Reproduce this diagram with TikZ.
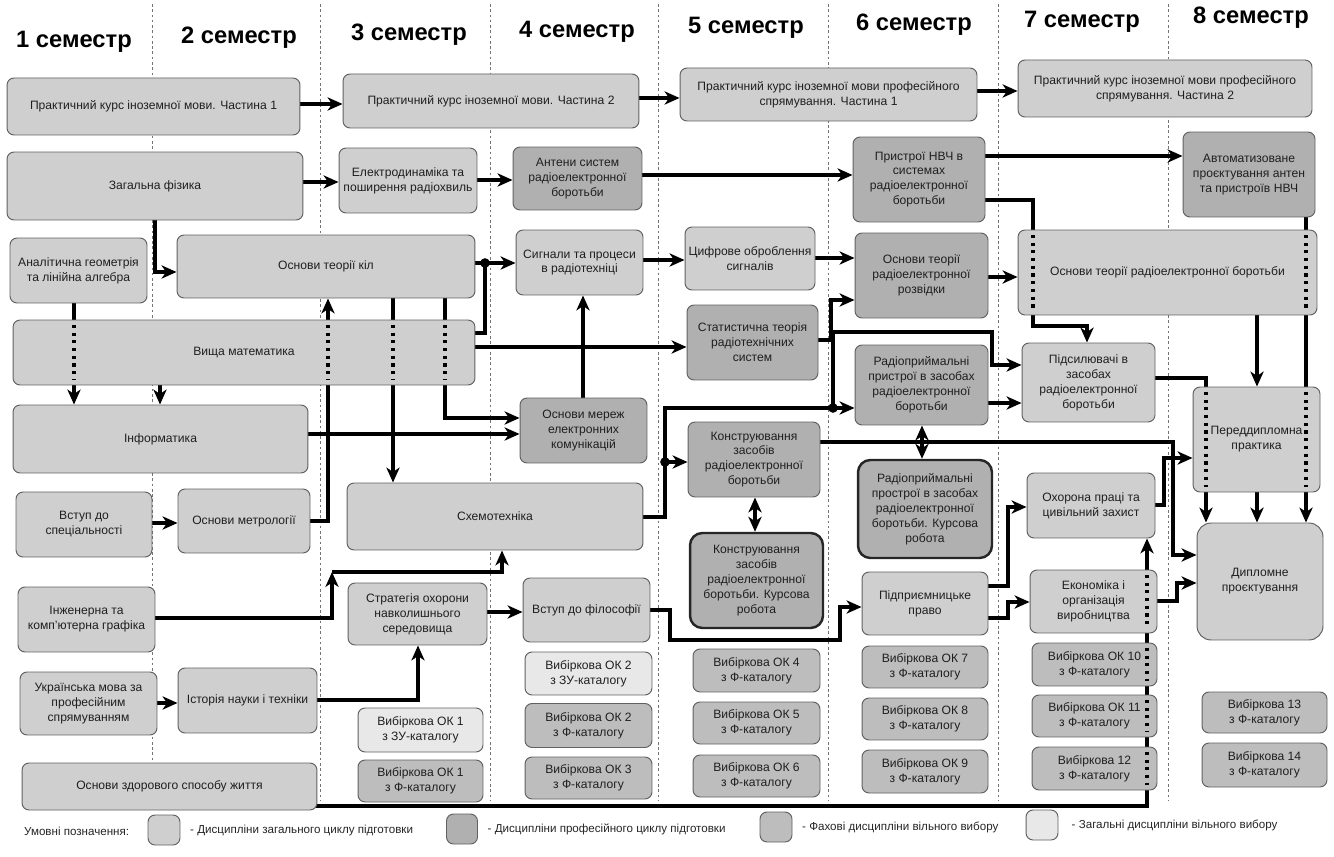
\documentclass[tikz,border=0pt]{standalone}
\usepackage{fontspec}
\setmainfont{Liberation Sans}
\usetikzlibrary{arrows.meta,positioning,backgrounds}
\newcommand{\boxfont}{\fontsize{6.9}{8.5}\selectfont\color{black!88}}
\newcommand{\legfont}{\fontsize{6.6}{8}\selectfont\color{black!85}}
\tikzset{
  kbox/.style={draw=black!62, line width=0.55pt, rounded corners=4pt, align=center, inner sep=1pt, font=\boxfont},
  gen/.style={kbox, fill=black!19},
  prof/.style={kbox, fill=black!31},
  fvyb/.style={kbox, fill=black!26},
  zvyb/.style={kbox, fill=black!9},
  kurs/.style={prof, draw=black!85, line width=1.4pt, rounded corners=7pt},
  wire/.style={line width=1.85pt},
  conn/.style={wire, -{Stealth[length=8.5pt,width=7.5pt,inset=2.5pt]}},
  twoway/.style={wire, {Stealth[length=8.5pt,width=7.5pt,inset=2.5pt]}-{Stealth[length=8.5pt,width=7.5pt,inset=2.5pt]}},
  thru/.style={line width=1.8pt, dash pattern=on 1.8pt off 2.6pt, shorten <=3pt, shorten >=3pt},
  sem/.style={black!55, line width=0.4pt, dash pattern=on 1.5pt off 1.5pt},
  junc/.style={circle, fill, inner sep=0pt, minimum size=5.5pt},
  semhead/.style={font=\fontsize{13.5}{15}\selectfont\bfseries, anchor=west},
}
\begin{document}
\begin{tikzpicture}[x=0.02cm, y=-0.02cm]
      \useasboundingbox (0,0) rectangle (1334,857);
      \node[semhead] (s1) at (10,42) {1 семестр};
      \node[semhead] (s2) at (175,38) {2 семестр};
      \node[semhead] (s3) at (345,35) {3 семестр};
      \node[semhead] (s4) at (513,32) {4 семестр};
      \node[semhead] (s5) at (682,28) {5 семестр};
      \node[semhead] (s6) at (850,25) {6 семестр};
      \node[semhead] (s7) at (1018,22) {7 семестр};
      \node[semhead] (s8) at (1187,18) {8 семестр};

      \node[gen, minimum width=5.86cm, minimum height=1.14cm] (pk1) at (153.5,106.5) {Практичний курс іноземної мови. Частина 1};
      \node[gen, minimum width=5.92cm, minimum height=1.08cm] (pk2) at (491,101) {Практичний курс іноземної мови. Частина 2};
      \node[gen, minimum width=5.94cm, minimum height=1.06cm] (pk3) at (828.5,94.5) {Практичний курс іноземної мови професійного\\спрямування. Частина 1};
      \node[gen, minimum width=5.88cm, minimum height=1.14cm] (pk4) at (1165,88.5) {Практичний курс іноземної мови професійного\\спрямування. Частина 2};

      \node[gen, minimum width=5.92cm, minimum height=1.36cm] (fiz) at (155,186) {Загальна фізика};
      \node[gen, minimum width=2.76cm, minimum height=1.30cm] (elek) at (408,180.5) {Електродинаміка та\\поширення радіохвиль};
      \node[prof, minimum width=2.58cm, minimum height=1.26cm] (ant) at (577.5,178.5) {Антени систем\\радіоелектронної\\боротьби};
      \node[prof, minimum width=2.64cm, minimum height=1.70cm] (nvch) at (919,179.5) {Пристрої НВЧ в\\системах\\радіоелектронної\\боротьби};
      \node[prof, minimum width=2.64cm, minimum height=1.70cm] (avt) at (1249,174.5) {Автоматизоване\\проєктування антен\\та пристроїв НВЧ};

      \node[gen, minimum width=2.74cm, minimum height=1.30cm] (geom) at (78.5,270.5) {Аналітична геометрія\\та лінійна алгебра};
      \node[gen, minimum width=5.96cm, minimum height=1.26cm] (kil) at (326,266.5) {Основи теорії кіл};
      \node[gen, minimum width=2.54cm, minimum height=1.30cm] (sygn) at (579.5,262.5) {Сигнали та процеси\\в радіотехніці};
      \node[gen, minimum width=2.60cm, minimum height=1.26cm] (cyfr) at (750,258.5) {Цифрове оброблення\\сигналів};
      \node[prof, minimum width=2.66cm, minimum height=1.70cm] (rozv) at (921.5,275.5) {Основи теорії\\радіоелектронної\\розвідки};
      \node[gen, minimum width=5.98cm, minimum height=1.70cm] (reb) at (1167.5,272.5) {Основи теорії радіоелектронної боротьби};

      \node[gen, minimum width=9.24cm, minimum height=1.30cm] (vyshch) at (244,352.5) {Вища математика};
      \node[prof, minimum width=2.62cm, minimum height=1.50cm] (stat) at (752.5,342.5) {Статистична теорія\\радіотехнічних\\систем};
      \node[prof, minimum width=2.66cm, minimum height=1.60cm] (rpp) at (921.5,385) {Радіоприймальні\\пристрої в засобах\\радіоелектронної\\боротьби};
      \node[gen, minimum width=2.66cm, minimum height=1.58cm] (pids) at (1088.5,382.5) {Підсилювачі в\\засобах\\радіоелектронної\\боротьби};

      \node[gen, minimum width=5.90cm, minimum height=1.36cm] (inf) at (160.5,439) {Інформатика};
      \node[prof, minimum width=2.54cm, minimum height=1.30cm] (merezh) at (583.5,430.5) {Основи мереж\\електронних\\комунікацій};
      \node[prof, minimum width=2.64cm, minimum height=1.50cm] (konstr) at (754,459.5) {Конструювання\\засобів\\радіоелектронної\\боротьби};
      \node[gen, minimum width=2.54cm, minimum height=2.10cm] (pered) at (1256.5,439.5) {Переддипломна\\практика};

      \node[gen, minimum width=2.72cm, minimum height=1.30cm] (vstup) at (84,524.5) {Вступ до\\спеціальності};
      \node[gen, minimum width=2.64cm, minimum height=1.28cm] (metr) at (244,521) {Основи метрології};
      \node[gen, minimum width=5.92cm, minimum height=1.34cm] (skhem) at (495,516.5) {Схемотехніка};
      \node[kurs, minimum width=2.66cm, minimum height=1.90cm] (kkr) at (756.5,580.5) {Конструювання\\засобів\\радіоелектронної\\боротьби. Курсова\\робота};
      \node[kurs, minimum width=2.68cm, minimum height=1.96cm] (rkr) at (925,509) {Радіоприймальні\\прострої в засобах\\радіоелектронної\\боротьби. Курсова\\робота};
      \node[gen, minimum width=2.56cm, minimum height=1.30cm] (okhor) at (1091,505.5) {Охорона праці та\\цивільний захист};
      \node[gen, rounded corners=8pt, minimum width=2.52cm, minimum height=2.34cm] (dypl) at (1260,581.5) {Дипломне\\проєктування};

      \node[gen, minimum width=2.74cm, minimum height=1.30cm] (graf) at (86.5,619.5) {Інженерна та\\комп'ютерна графіка};
      \node[gen, minimum width=2.78cm, minimum height=1.24cm] (strat) at (417.5,614) {Стратегія охорони\\навколишнього\\середовища};
      \node[gen, minimum width=2.54cm, minimum height=1.28cm] (filos) at (586.5,610) {Вступ до філософії};
      \node[gen, minimum width=2.52cm, minimum height=1.26cm] (pravo) at (925,603.5) {Підприємницьке\\право};
      \node[gen, minimum width=2.54cm, minimum height=1.26cm] (ekon) at (1093.5,601.5) {Економіка і\\організація\\виробництва};

      \node[gen, minimum width=2.74cm, minimum height=1.26cm] (ukr) at (88.5,703.5) {Українська мова за\\професійним\\спрямуванням};
      \node[gen, minimum width=2.78cm, minimum height=1.30cm] (ist) at (247.5,700.5) {Історія науки і техніки};
      \node[gen, minimum width=5.90cm, minimum height=0.94cm] (zdor) at (169.5,786.5) {Основи здорового способу життя};

      \node[zvyb, minimum width=2.50cm, minimum height=0.88cm] (ok1z) at (420.5,730) {Вибіркова ОК 1\\з ЗУ-каталогу};
      \node[fvyb, minimum width=2.50cm, minimum height=0.84cm] (ok1f) at (420.5,781) {Вибіркова ОК 1\\з Ф-каталогу};
      \node[zvyb, minimum width=2.54cm, minimum height=0.86cm] (ok2z) at (588.5,673.5) {Вибіркова ОК 2\\з ЗУ-каталогу};
      \node[fvyb, minimum width=2.54cm, minimum height=0.88cm] (ok2f) at (588.5,725.5) {Вибіркова ОК 2\\з Ф-каталогу};
      \node[fvyb, minimum width=2.54cm, minimum height=0.84cm] (ok3) at (588.5,778) {Вибіркова ОК 3\\з Ф-каталогу};
      \node[fvyb, minimum width=2.54cm, minimum height=0.86cm] (ok4) at (756.5,670.5) {Вибіркова ОК 4\\з Ф-каталогу};
      \node[fvyb, minimum width=2.54cm, minimum height=0.84cm] (ok5) at (756.5,723) {Вибіркова ОК 5\\з Ф-каталогу};
      \node[fvyb, minimum width=2.54cm, minimum height=0.84cm] (ok6) at (756.5,776) {Вибіркова ОК 6\\з Ф-каталогу};
      \node[fvyb, minimum width=2.52cm, minimum height=0.84cm] (ok7) at (925,667) {Вибіркова ОК 7\\з Ф-каталогу};
      \node[fvyb, minimum width=2.52cm, minimum height=0.84cm] (ok8) at (925,719) {Вибіркова ОК 8\\з Ф-каталогу};
      \node[fvyb, minimum width=2.52cm, minimum height=0.86cm] (ok9) at (925,771.5) {Вибіркова ОК 9\\з Ф-каталогу};
      \node[fvyb, minimum width=2.50cm, minimum height=0.86cm] (ok10) at (1094.5,664.5) {Вибіркова ОК 10\\з Ф-каталогу};
      \node[fvyb, minimum width=2.50cm, minimum height=0.84cm] (ok11) at (1094.5,716) {Вибіркова ОК 11\\з Ф-каталогу};
      \node[fvyb, minimum width=2.50cm, minimum height=0.86cm] (ok12) at (1094.5,768.5) {Вибіркова 12\\з Ф-каталогу};
      \node[fvyb, minimum width=2.50cm, minimum height=0.82cm] (ok13) at (1264.5,712.5) {Вибіркова 13\\з Ф-каталогу};
      \node[fvyb, minimum width=2.50cm, minimum height=0.88cm] (ok14) at (1264.5,765) {Вибіркова 14\\з Ф-каталогу};

      \coordinate (j1) at (665,462);
      \coordinate (j2) at (833,408);
      \coordinate (j3) at (485,263);

      \begin{pgfonlayer}{background}
      \fill[white] (0,0) rectangle (1334,857);
      \foreach \sx in {152,320,490,658,828,998,1168}
        \draw[sem] (\sx,4) -- (\sx,800);
      \draw[conn] (pk1.east |- 0,104) -- (pk2.west |- 0,104);
      \draw[conn] (pk2.east |- 0,98) -- (pk3.west |- 0,98);
      \draw[conn] (pk3.east |- 0,91) -- (pk4.west |- 0,91);
      \draw[conn] (fiz.east |- 0,182) -- (elek.west |- 0,182);
      \draw[conn] (fiz.south -| 155,0) |- (kil.west |- 0,272);
      \draw[conn] (elek.east |- 0,180) -- (ant.west |- 0,180);
      \draw[conn] (ant.east |- 0,175) -- (nvch.west |- 0,175);
      \draw[conn] (nvch.east |- 0,156) -- (avt.west |- 0,156);
      \draw[conn] (nvch.east |- 0,200) -| (1033,326) -| (pids.north -| 1087,0);
      \draw[conn] (avt.south -| 1306,0) -- (dypl.north -| 1306,0);
      \draw[conn] (reb.south -| 1257,0) -- (pered.north -| 1257,0);
      \draw[conn] (pered.south -| 1257,0) -- (dypl.north -| 1257,0);
      \draw[conn] (pids.east |- 0,378) -| (dypl.north -| 1206,0);
      \draw[conn] (geom.south -| 74,0) -- (inf.north -| 74,0);
      \draw[conn] (vyshch.south -| 160,0) -- (inf.north -| 160,0);
      \draw[conn] (metr.east |- 0,521) -| (kil.south -| 328,0);
      \draw[conn] (kil.south -| 393,0) -- (skhem.north -| 393,0);
      \draw[conn] (kil.south -| 445,0) |- (merezh.west |- 0,418);
      \draw[conn] (inf.east |- 0,434) -- (merezh.west |- 0,434);
      \draw[conn] (kil.east |- 0,263) -- (sygn.west |- 0,263);
      \draw[wire] (vyshch.east |- 0,333) -| (j3);
      \draw[conn] (merezh.north -| 583,0) -- (sygn.south -| 583,0);
      \draw[conn] (vyshch.east |- 0,347) -- (stat.west |- 0,347);
      \draw[conn] (sygn.east |- 0,260) -- (cyfr.west |- 0,260);
      \draw[conn] (cyfr.east |- 0,258) -- (rozv.west |- 0,258);
      \draw[conn] (stat.east |- 0,340) -| (831,300) -- (rozv.west |- 0,300);
      \draw[conn] (rozv.east |- 0,277) -- (reb.west |- 0,277);
      \draw[conn] (skhem.east |- 0,517) -| (665,408) -- (rpp.west |- 0,408);
      \draw[conn] (j1) -- (konstr.west |- j1);
      \draw[conn] (j2) |- (992,332) |- (pids.west |- 0,365);
      \draw[conn] (rpp.east |- 0,403) -- (pids.west |- 0,403);
      \draw[twoway] (rpp.south -| 922,0) -- (rkr.north -| 922,0);
      \draw[twoway] (konstr.south -| 755,0) -- (kkr.north -| 755,0);
      \draw[conn] (konstr.east |- 0,442) -| (1173,555) -- (dypl.west |- 0,555);
      \draw[conn] (okhor.east |- 0,505) -| (1164,458) -- (pered.west |- 0,458);
      \draw[conn] (ekon.east |- 0,601) -| (1177,583) -- (dypl.west |- 0,583);
      \draw[conn] (pravo.east |- 0,586) -| (1008,507) -- (okhor.west |- 0,507);
      \draw[conn] (pravo.east |- 0,618) -| (1008,602) -- (ekon.west |- 0,602);
      \draw[conn] (filos.east |- 0,610) -| (670,640) -| (840,607) -- (pravo.west |- 0,607);
      \draw[conn] (strat.east |- 0,612) -- (filos.west |- 0,612);
      \draw[conn] (ist.east |- 0,700) -| (strat.south -| 418,0);
      \draw[conn] (ukr.east |- 0,703) -- (ist.west |- 0,703);
      \draw[conn] (vstup.east |- 0,523) -- (metr.west |- 0,523);
      \draw[conn] (graf.east |- 0,618) -| (332,572);
      \draw[conn] (332,572) -| (skhem.south -| 502,0);
      \draw[conn] (zdor.south -| 170,0) |- (1147,806) -- (okhor.south -| 1147,0);
      \end{pgfonlayer}

      \node[junc] at (j1) {};
      \node[junc] at (j2) {};
      \node[junc] at (j3) {};
      \foreach \tx in {74,328,393,445}
        \draw[thru] (vyshch.north -| \tx,0) -- (vyshch.south -| \tx,0);
      \foreach \tx in {1033,1306}
        \draw[thru] (reb.north -| \tx,0) -- (reb.south -| \tx,0);
      \foreach \tx in {1206,1306}
        \draw[thru] (pered.north -| \tx,0) -- (pered.south -| \tx,0);
      \foreach \tb in {ekon,ok10,ok11,ok12}
        \draw[thru] (\tb.north -| 1147,0) -- (\tb.south -| 1147,0);

      \node[anchor=west, font=\legfont] (leg) at (18,831) {Умовні позначення:};
      \node[gen, minimum width=0.64cm, minimum height=0.60cm] (lg1) at (164,830) {};
      \node[right=2pt of lg1, font=\legfont] (lt1) {- Дисципліни загального циклу підготовки};
      \node[prof, minimum width=0.62cm, minimum height=0.60cm] (lg2) at (462,829) {};
      \node[right=2pt of lg2, font=\legfont] (lt2) {- Дисципліни професійного циклу підготовки};
      \node[fvyb, minimum width=0.64cm, minimum height=0.60cm] (lg3) at (776,827) {};
      \node[right=2pt of lg3, font=\legfont] (lt3) {- Фахові дисципліни вільного вибору};
      \node[zvyb, minimum width=0.64cm, minimum height=0.60cm] (lg4) at (1042,825) {};
      \node[right=4pt of lg4, font=\legfont] (lt4) {- Загальні дисципліни вільного вибору};
    \end{tikzpicture}
\end{document}
